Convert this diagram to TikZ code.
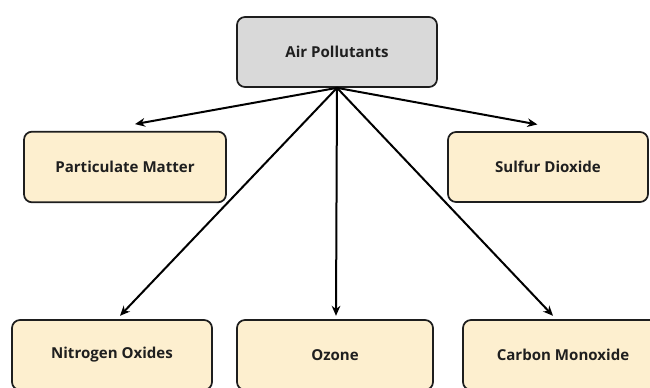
\documentclass[tikz,border=0pt]{standalone}
\usepackage{fontspec}
\setmainfont{Open Sans}
\usetikzlibrary{arrows.meta}
\definecolor{boxfill}{HTML}{FDEFCF}
\definecolor{topfill}{HTML}{D9D9D9}
\definecolor{edge}{HTML}{1E1E1E}
\tikzset{
  box/.style={draw=edge, line width=1.3pt, rounded corners=6pt, fill=boxfill,
    minimum width=150pt, minimum height=52.5pt, inner sep=0pt,
    font=\fontsize{11.3}{13}\selectfont\bfseries, text=black!88},
  topbox/.style={box, fill=topfill},
  arr/.style={draw=black, line width=1.5pt, -{Stealth[length=7.5pt,width=6.5pt]}}
}
\begin{document}
\begin{tikzpicture}[x=0.75pt,y=-0.75pt]
\clip (0,0) rectangle (650,388);
\fill[white] (0,0) rectangle (650,388);
\node[topbox] (top) at (337,52) {Air Pollutants};
\node[box, minimum width=151.5pt, minimum height=53pt] (pm) at (125,167) {Particulate Matter};
\node[box] (sd) at (548,167) {Sulfur Dioxide};
\node[box] (no) at (112,355) {Nitrogen Oxides};
\node[box, minimum width=147pt] (oz) at (335,355) {Ozone};
\node[box] (cm) at (563,355) {Carbon Monoxide};
\draw[arr] (top.south) -- ([xshift=7.5pt,yshift=5pt]pm.north);
\draw[arr] (top.south) -- ([xshift=-8pt,yshift=5pt]sd.north);
\draw[arr] (top.south) -- ([xshift=6pt,yshift=2.5pt]no.north);
\draw[arr] (top.south) -- ([xshift=0.75pt,yshift=2.5pt]oz.north);
\draw[arr] (top.south) -- ([xshift=-7.5pt,yshift=2.5pt]cm.north);
\end{tikzpicture}
\end{document}
